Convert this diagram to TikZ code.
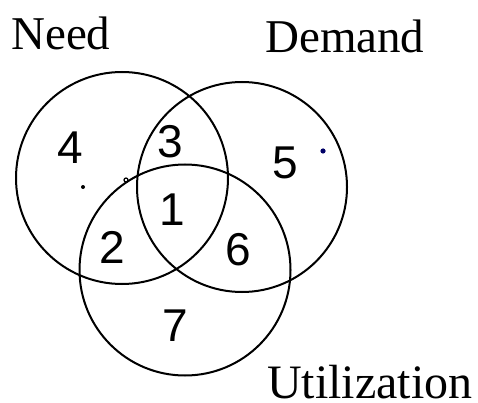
\documentclass[tikz,border=0pt]{standalone}
\usepackage{fontspec}
\setmainfont{Liberation Serif}
\newfontfamily\numfont{Liberation Sans}
\begin{document}
\begin{tikzpicture}[x=1pt,y=-1pt,
  setcircle/.style={circle,draw=black,line width=2pt,inner sep=0pt,minimum size=#1},
  num/.style={inner sep=0pt,font=\numfont\fontsize{46}{50}\selectfont},
  lbl/.style={inner sep=0pt,anchor=base west,font=\fontsize{47}{52}\selectfont}]
\useasboundingbox[fill=white] (0,0) rectangle (478,403);
\node[setcircle=212pt] (need) at (122,178) {};
\node[setcircle=210pt] (demand) at (242,187) {};
\node[setcircle=211pt] (util) at (185,270) {};
\node[lbl] (tneed) at (11,50) {Need};
\node[lbl] (tdemand) at (265,53) {Demand};
\node[lbl,font=\fontsize{48}{52}\selectfont] (tutil) at (267,398) {Utilization};
\node[num] (n4) at (70,148) {4};
\node[num] (n3) at (170,142) {3};
\node[num] (n5) at (285,163) {5};
\node[num] (n1) at (172,210) {1};
\node[num] (n2) at (112,247) {2};
\node[num] (n6) at (238,250) {6};
\node[num] (n7) at (175,326) {7};
\fill[black] (83,187) circle (2pt);
\draw[black,line width=1.2pt] (126,180) circle (2pt);
\fill[blue!40!black] (323,151) circle (2.6pt);
\end{tikzpicture}
\end{document}
